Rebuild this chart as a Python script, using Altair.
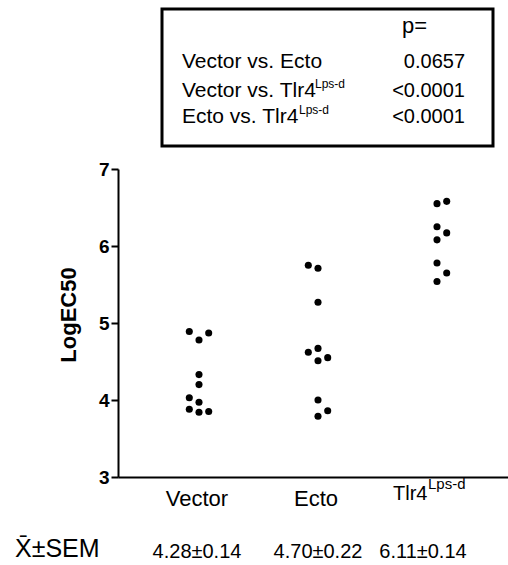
import altair as alt
import pandas as pd

FONT = "Liberation Sans"

# ---- data ----
groups = ["Vector", "Ecto", "Tlr4"]
vector_vals = [4.89, 4.87, 4.78, 4.33, 4.20, 4.03, 3.97, 3.88, 3.84, 3.85]
vector_slot = [-1, 1, 0, 0, 0, -1, 0, -1, 0, 1]
ecto_vals = [5.75, 5.71, 5.27, 4.62, 4.67, 4.55, 4.51, 4.00, 3.86, 3.79]
ecto_slot = [-1, 0, 0, -1, 0, 1, 0, 0, 1, 0]
tlr4_vals = [6.55, 6.58, 6.25, 6.17, 6.08, 5.78, 5.65, 5.54]
tlr4_slot = [0, 1, 0, 1, 0, 0, 1, 0]

y_ticks = [3, 4, 5, 6, 7]
stats_label = "X\u0304\u00b1SEM"
stats_vals = ["4.28\u00b10.14", "4.70\u00b10.22", "6.11\u00b10.14"]
p_rows = ["Vector vs. Ecto", "Vector vs. Tlr4", "Ecto vs. Tlr4"]
p_sup = ["", "Lps-d", "Lps-d"]
p_vals = ["0.0657", "<0.0001", "<0.0001"]
sup_text = "Lps-d"

rows = []
for gi, (vals, slots) in enumerate([(vector_vals, vector_slot),
                                    (ecto_vals, ecto_slot),
                                    (tlr4_vals, tlr4_slot)]):
    for v, s in zip(vals, slots):
        rows.append({"group": groups[gi], "gidx": gi + 1, "slot": s, "value": v})
df = pd.DataFrame(rows)

W, H = 390, 308

points = alt.Chart(df).transform_calculate(
    xpos="datum.gidx + datum.slot * 0.0815"
).mark_circle(size=50, color="black", opacity=1).encode(
    x=alt.X("xpos:Q", scale=alt.Scale(domain=[0.3193, 3.5966], nice=False, zero=False),
            axis=alt.Axis(labels=False, ticks=False, title=None, grid=False,
                          domainColor="black", domainWidth=2)),
    y=alt.Y("value:Q", scale=alt.Scale(domain=[3, 7], nice=False, zero=False),
            axis=alt.Axis(values=y_ticks, title=None, grid=False, format="d",
                          labelFont=FONT, labelFontSize=19, labelFontWeight="bold",
                          labelColor="black", labelPadding=2,
                          tickSize=7, tickWidth=2, tickColor="black",
                          domainColor="black", domainWidth=2)),
)

one = pd.DataFrame({"k": [0]})


def txt(s, x, y, size, weight="normal", align="left", angle=0):
    kw = dict(text=s, font=FONT, fontSize=size, fontWeight=weight, align=align,
              baseline="alphabetic", color="black")
    if angle:
        kw["angle"] = angle
    return alt.Chart(one).mark_text(**kw).encode(x=alt.value(x), y=alt.value(y))


layers = [points]

# legend box with p values
layers.append(
    alt.Chart(one).mark_rect(fillOpacity=0, stroke="black", strokeWidth=3).encode(
        x=alt.value(44), x2=alt.value(375), y=alt.value(-160), y2=alt.value(-23))
)
layers.append(txt("p=", 284, -136, 22))
row_y = [-101, -72, -46]
sup_x = [0, 197, 181]
for i in range(3):
    layers.append(txt(p_rows[i], 64, row_y[i], 21))
    if p_sup[i]:
        layers.append(txt(p_sup[i], sup_x[i], row_y[i] - 9, 12))
    layers.append(txt(p_vals[i], 347, row_y[i], 20, align="right"))

# y title
layers.append(txt("LogEC50", -42, 146, 22, weight="bold", align="center", angle=270))

# category labels
layers.append(txt(groups[0], 79, 337, 22, align="center"))
layers.append(txt(groups[1], 198, 337, 22, align="center"))
layers.append(txt(groups[2], 275, 331, 20))
layers.append(txt(sup_text, 310, 320, 15))

# mean +/- SEM row
layers.append(txt(stats_label, -103, 388, 25))
stat_x = [79, 200, 305]
for i in range(3):
    layers.append(txt(stats_vals[i], stat_x[i], 389, 20, align="center"))

chart = alt.layer(*layers).properties(
    width=W, height=H,
    padding={"left": 118, "top": 169, "right": 0, "bottom": 88},
    autosize=alt.AutoSizeParams(type="none"),
    background="white",
).configure_view(stroke=None)

chart.save("out.html", embed_options={"renderer": "svg", "actions": False})
